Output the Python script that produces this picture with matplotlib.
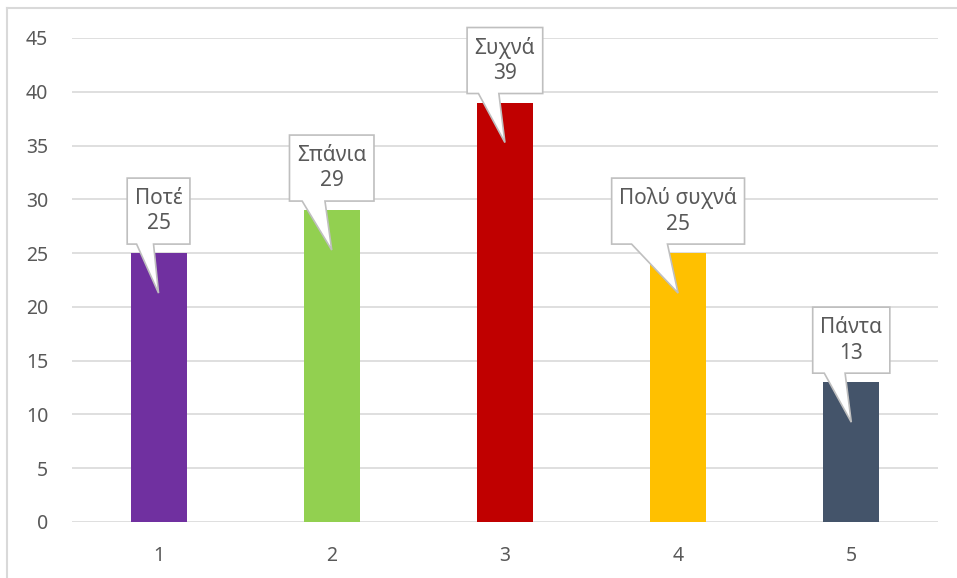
import matplotlib
matplotlib.use("Agg")
import matplotlib.pyplot as plt
from matplotlib.patches import Polygon
from matplotlib.lines import Line2D
from matplotlib.transforms import IdentityTransform

# Chart data
categories = [1, 2, 3, 4, 5]
values = [25, 29, 39, 25, 13]
labels = ["Ποτέ", "Σπάνια", "Συχνά", "Πολύ συχνά", "Πάντα"]
colors = ["#7030A0", "#92D050", "#C00000", "#FFC000", "#44546A"]
yticks = [0, 5, 10, 15, 20, 25, 30, 35, 40, 45]

text_color = "#595959"
grid_color = "#D9D9D9"
plt.rcParams["font.family"] = ["Noto Sans", "DejaVu Sans"]

fig = plt.figure(figsize=(9.57, 5.78), dpi=100)
ax = fig.add_axes([0.0752, 0.0969, 0.9048, 0.8374])

ax.bar(categories, values, width=0.323, color=colors, zorder=2)

ax.set_xlim(0.5, 5.5)
ax.set_ylim(0, 45)
ax.set_yticks(yticks)
ax.set_xticks(categories)
ax.yaxis.grid(True, color=grid_color, linewidth=1.2, zorder=0)
ax.set_axisbelow(True)
for s in ax.spines.values():
    s.set_visible(False)
ax.tick_params(axis="both", length=0, labelsize=14, labelcolor=text_color)
ax.tick_params(axis="y", pad=17)
ax.tick_params(axis="x", pad=17)

# Outer chart border (top and left visible)
fig.add_artist(Line2D([7 / 957, 1], [1 - 8 / 578, 1 - 8 / 578], color=grid_color, lw=1.5))
fig.add_artist(Line2D([7 / 957, 7 / 957], [0, 1 - 8 / 578], color=grid_color, lw=1.5))

# Callout labels
gap = 9       # px between box bottom and bar top
box_h = 66    # px
tail = 40     # px tail tip below bar top
texts = []
for x, v, lab in zip(categories, values, labels):
    t = ax.annotate(f"{lab}\n{v}", xy=(x, v), xytext=(0, gap + box_h / 2),
                    textcoords="offset pixels", ha="center", va="center",
                    fontsize=15, color=text_color, linespacing=1.3, zorder=5)
    texts.append(t)

fig.canvas.draw()
renderer = fig.canvas.get_renderer()
for t, x, v in zip(texts, categories, values):
    ext = t.get_window_extent(renderer)
    cx, top = ax.transData.transform((x, v))
    w = ext.width + 15
    L, R = cx - w / 2, cx + w / 2
    B = top + gap
    T = B + box_h
    pts = [(L, T), (R, T), (R, B), (L + 0.42 * w, B), (cx, top - tail),
           (L + 0.15 * w, B), (L, B)]
    poly = Polygon(pts, closed=True, facecolor="white", edgecolor="#BFBFBF",
                   lw=1.2, transform=IdentityTransform(), zorder=4, clip_on=False)
    ax.add_artist(poly)

fig.savefig("out.png", dpi=100)
